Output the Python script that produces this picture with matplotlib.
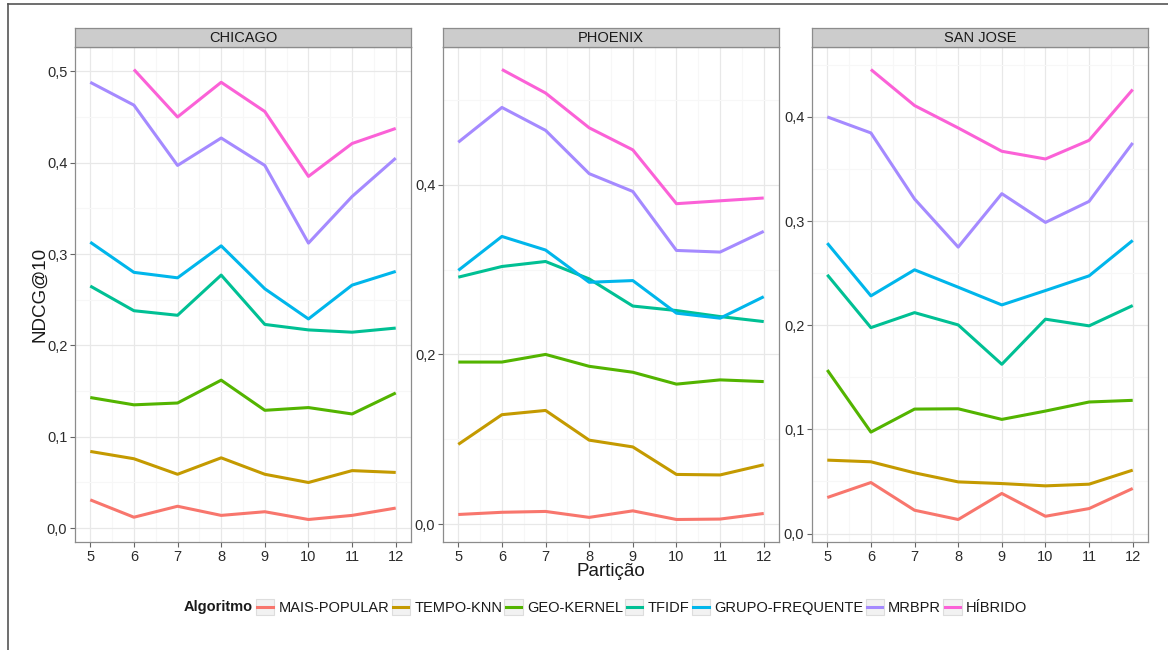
import numpy as np
import matplotlib
matplotlib.use("Agg")
import matplotlib.pyplot as plt
from matplotlib.lines import Line2D
from matplotlib.patches import Rectangle
from matplotlib.legend_handler import HandlerLine2D
from matplotlib.ticker import FuncFormatter, MultipleLocator

plt.rcParams["font.family"] = ["Liberation Sans", "DejaVu Sans"]

particoes = [5, 6, 7, 8, 9, 10, 11, 12]
algoritmos = ["MAIS-POPULAR", "TEMPO-KNN", "GEO-KERNEL", "TFIDF",
              "GRUPO-FREQUENTE", "MRBPR", "HÍBRIDO"]
cores = ["#F8766D", "#C49A00", "#53B400", "#00C094",
         "#00B6EB", "#A58AFF", "#FB61D7"]
cidades = ["CHICAGO", "PHOENIX", "SAN JOSE"]
nan = np.nan

# NDCG@10 por particao (o hibrido so existe a partir da particao 6)
chicago = {
    "MAIS-POPULAR":    [0.031, 0.012, 0.024, 0.014, 0.018, 0.0095, 0.014, 0.022],
    "TEMPO-KNN":       [0.084, 0.076, 0.059, 0.077, 0.059, 0.050, 0.063, 0.061],
    "GEO-KERNEL":      [0.143, 0.135, 0.137, 0.162, 0.129, 0.132, 0.125, 0.148],
    "TFIDF":           [0.265, 0.238, 0.233, 0.277, 0.223, 0.217, 0.2145, 0.219],
    "GRUPO-FREQUENTE": [0.313, 0.280, 0.274, 0.309, 0.262, 0.229, 0.266, 0.281],
    "MRBPR":           [0.488, 0.463, 0.397, 0.427, 0.397, 0.312, 0.363, 0.405],
    "HÍBRIDO":         [nan, 0.502, 0.450, 0.488, 0.456, 0.385, 0.421, 0.4375],
}
phoenix = {
    "MAIS-POPULAR":    [0.0114, 0.014, 0.015, 0.008, 0.0157, 0.0055, 0.006, 0.0126],
    "TEMPO-KNN":       [0.094, 0.129, 0.134, 0.099, 0.091, 0.0586, 0.058, 0.070],
    "GEO-KERNEL":      [0.191, 0.191, 0.200, 0.186, 0.179, 0.165, 0.170, 0.168],
    "TFIDF":           [0.291, 0.3036, 0.3095, 0.289, 0.257, 0.2517, 0.2446, 0.2387],
    "GRUPO-FREQUENTE": [0.299, 0.339, 0.323, 0.285, 0.287, 0.2486, 0.2427, 0.268],
    "MRBPR":           [0.450, 0.491, 0.464, 0.413, 0.392, 0.3225, 0.3206, 0.345],
    "HÍBRIDO":         [nan, 0.5357, 0.508, 0.467, 0.441, 0.3776, 0.381, 0.3843],
}
san_jose = {
    "MAIS-POPULAR":    [0.0346, 0.049, 0.0224, 0.0135, 0.0385, 0.0166, 0.024, 0.0433],
    "TEMPO-KNN":       [0.0705, 0.0689, 0.0583, 0.0496, 0.048, 0.0458, 0.0474, 0.0609],
    "GEO-KERNEL":      [0.157, 0.0974, 0.1195, 0.1198, 0.1096, 0.1176, 0.1263, 0.1279],
    "TFIDF":           [0.2484, 0.1977, 0.2121, 0.2003, 0.1625, 0.2058, 0.1994, 0.2189],
    "GRUPO-FREQUENTE": [0.2788, 0.2282, 0.2532, 0.2365, 0.2195, 0.2333, 0.2474, 0.2814],
    "MRBPR":           [0.400, 0.3846, 0.3212, 0.275, 0.3263, 0.2987, 0.3189, 0.375],
    "HÍBRIDO":         [nan, 0.4455, 0.4109, 0.3894, 0.367, 0.3596, 0.3775, 0.4263],
}
dados = [chicago, phoenix, san_jose]
passo_y = [0.1, 0.2, 0.1]


class HandlerChave(HandlerLine2D):
    """Chave de legenda estilo ggplot: caixa cinza clara com a linha no meio."""
    def create_artists(self, legend, orig_handle, xdescent, ydescent,
                       width, height, fontsize, trans):
        caixa = Rectangle((-xdescent, -ydescent), width, height,
                          facecolor="#F2F2F2", edgecolor="#DDDDDD",
                          linewidth=0.8, transform=trans)
        y = -ydescent + height / 2
        linha = Line2D([-xdescent + 1, -xdescent + width - 1], [y, y],
                       color=orig_handle.get_color(), linewidth=2.2,
                       transform=trans)
        return [caixa, linha]


W, H = 1168, 650
fig = plt.figure(figsize=(W / 100, H / 100), dpi=100)

# moldura da imagem (apenas bordas esquerda e superior)
fig.add_artist(Line2D([8 / W, 8 / W], [0, 1 - 4 / H], color="#555555",
                      linewidth=1.2, transform=fig.transFigure))
fig.add_artist(Line2D([8 / W, 1], [1 - 4 / H, 1 - 4 / H], color="#555555",
                      linewidth=1.2, transform=fig.transFigure))

lefts = [75, 443, 812]
largura = 336
topo, base, topo_faixa = 47, 542, 28

fmt = FuncFormatter(lambda v, p: f"{v:.1f}".replace(".", ","))

for cidade, tabela, passo, esq in zip(cidades, dados, passo_y, lefts):
    ax = fig.add_axes([esq / W, 1 - base / H, largura / W, (base - topo) / H])
    ax.set_facecolor("white")
    for alg, cor in zip(algoritmos, cores):
        ax.plot(particoes, tabela[alg], color=cor, linewidth=2.2,
                solid_capstyle="butt", zorder=3)
    ax.margins(x=0.05, y=0.05)
    ax.set_xticks(particoes)
    ax.xaxis.set_minor_locator(MultipleLocator(0.5))
    ax.yaxis.set_major_locator(MultipleLocator(passo))
    ax.yaxis.set_minor_locator(MultipleLocator(passo / 2))
    ax.yaxis.set_major_formatter(fmt)
    ax.grid(which="major", color="#E8E8E8", linewidth=0.9, zorder=0)
    ax.grid(which="minor", color="#F7F7F7", linewidth=0.8, zorder=0)
    ax.set_axisbelow(True)
    for s in ax.spines.values():
        s.set_color("#8C8C8C")
        s.set_linewidth(0.9)
    ax.tick_params(which="major", length=3.5, width=0.8, color="#666666",
                   labelsize=10.5, labelcolor="#2B2B2B", pad=2)
    ax.tick_params(which="minor", length=0)

    faixa = fig.add_axes([esq / W, 1 - topo / H, largura / W,
                          (topo - topo_faixa) / H])
    faixa.set_facecolor("#CCCCCC")
    faixa.set_xticks([])
    faixa.set_yticks([])
    for s in faixa.spines.values():
        s.set_color("#8C8C8C")
        s.set_linewidth(0.9)
    faixa.text(0.5, 0.5, cidade, ha="center", va="center", fontsize=10.5,
               color="#1A1A1A", transform=faixa.transAxes)

fig.text(40 / W, 1 - 294 / H, "NDCG@10", rotation=90, ha="center",
         va="center", fontsize=13.5, color="#1A1A1A")
fig.text(611 / W, 1 - 572 / H, "Partição", ha="center", va="center",
         fontsize=13.5, color="#1A1A1A")

alças = [Line2D([], [], color=c) for c in cores]
leg = fig.legend(alças, algoritmos, loc="center left",
                 bbox_to_anchor=(256 / W, 1 - 607 / H), ncol=7, frameon=False,
                 fontsize=10.5, handlelength=1.25, handleheight=1.25,
                 handletextpad=0.3, columnspacing=0.15, borderpad=0,
                 borderaxespad=0,
                 handler_map={Line2D: HandlerChave()})
for t in leg.get_texts():
    t.set_color("#1A1A1A")
fig.text(253 / W, 1 - 607 / H, "Algoritmo", ha="right", va="center",
         fontsize=10.5, fontweight="bold", color="#1A1A1A")

fig.savefig("out.png", dpi=100)
